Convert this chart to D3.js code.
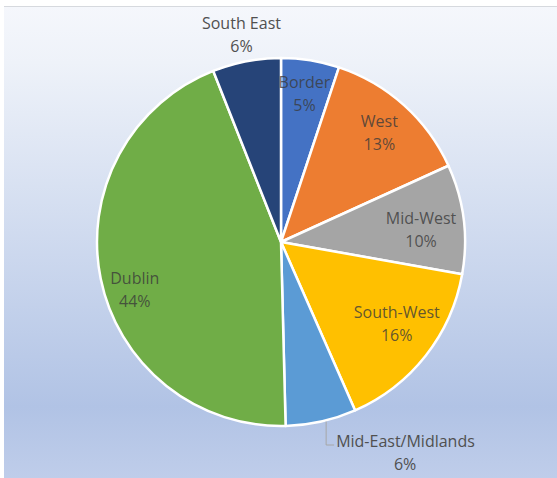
<!DOCTYPE html>
<html>
<head>
<meta charset="utf-8">
<script src="https://cdn.jsdelivr.net/npm/d3@7"></script>
<style>
  html, body { margin: 0; padding: 0; background: #ffffff; }
  svg { display: block; }
  text { font-family: "Open Sans", "Noto Sans", sans-serif; }
</style>
</head>
<body>
<svg id="chart" width="557" height="478"></svg>
<script>
// ---- data ----
const categories = ["Border", "West", "Mid-West", "South-West", "Mid-East/Midlands", "Dublin", "South East"];
const values = [5.1, 13.1, 9.6, 15.6, 6.2, 44.4, 6.0];
const percentLabels = ["5%", "13%", "10%", "16%", "6%", "44%", "6%"];
const sliceColors = ["#4472c4", "#ed7d31", "#a5a5a5", "#ffc000", "#5b9bd5", "#70ad47", "#264478"];

// label placement tweaks (pixels), separate from data
const labelNudge = { "Dublin": [-2, 19], "Mid-West": [-6, 6], "South-West": [0, -9], "Border": [0, -3] };
const outsideLabels = ["South East", "Mid-East/Midlands"];

const W = 557, H = 478;
const svg = d3.select("#chart");

// background gradient
const defs = svg.append("defs");
const grad = defs.append("linearGradient").attr("id", "bg").attr("x1", 0).attr("y1", 0).attr("x2", 0).attr("y2", 1);
[[0, "#f5f7fc"], [0.12, "#eef2f9"], [0.85, "#b1c3e5"], [1, "#bfcdea"]].forEach(s =>
  grad.append("stop").attr("offset", s[0]).attr("stop-color", s[1]));

svg.append("rect").attr("x", 4).attr("y", 6).attr("width", W - 4).attr("height", H - 6).attr("fill", "url(#bg)");
svg.append("line").attr("x1", 4).attr("x2", W).attr("y1", 6.5).attr("y2", 6.5).attr("stroke", "#d6d9de").attr("stroke-width", 1);

const cx = 281, cy = 242, R = 184;
const g = svg.append("g").attr("transform", `translate(${cx},${cy})`);

const data = categories.map((c, i) => ({ name: c, value: values[i], label: percentLabels[i], color: sliceColors[i] }));
const pie = d3.pie().sort(null).value(d => d.value).startAngle(0).endAngle(2 * Math.PI);
const arcs = pie(data);
const arc = d3.arc().innerRadius(0).outerRadius(R);
const labelArc = d3.arc().innerRadius(R * 0.8).outerRadius(R * 0.8);
const outerArc = d3.arc().innerRadius(R + 27).outerRadius(R + 27);
const edgeArc = d3.arc().innerRadius(R).outerRadius(R);

g.selectAll("path.slice").data(arcs).enter().append("path")
  .attr("class", "slice")
  .attr("d", arc)
  .attr("fill", d => d.data.color)
  .attr("stroke", "#ffffff")
  .attr("stroke-width", 2.5)
  .attr("stroke-linejoin", "round");

const fs = 16;
const lineGap = 23;

// inside labels
arcs.filter(d => !outsideLabels.includes(d.data.name)).forEach(d => {
  const [x0, y0] = labelArc.centroid(d);
  const n = labelNudge[d.data.name] || [0, 0];
  const x = x0 + n[0], y = y0 + n[1];
  const t = g.append("text").attr("text-anchor", "middle").attr("font-size", fs)
    .attr("fill", "#3a3a3a").attr("fill-opacity", 0.8);
  t.append("tspan").attr("x", x).attr("y", y - lineGap / 2 + 5.5).text(d.data.name);
  t.append("tspan").attr("x", x).attr("y", y + lineGap / 2 + 5.5).text(d.data.label);
});

// South East (outside, above)
arcs.filter(d => d.data.name === "South East").forEach(d => {
  const [x, y] = outerArc.centroid(d);
  const t = g.append("text").attr("text-anchor", "middle").attr("font-size", fs).attr("fill", "#505050");
  t.append("tspan").attr("x", x).attr("y", y - lineGap / 2 + 5.5).text(d.data.name);
  t.append("tspan").attr("x", x).attr("y", y + lineGap / 2 + 5.5).text(d.data.label);
});

// Mid-East/Midlands (outside with leader line)
arcs.filter(d => d.data.name === "Mid-East/Midlands").forEach(d => {
  const [ex, ey] = edgeArc.centroid(d);
  const lx = ex + 5, ly = R + 19;
  g.append("path")
    .attr("d", `M${lx},${ey} L${lx},${ly} L${lx + 8},${ly}`)
    .attr("fill", "none").attr("stroke", "#a6a6a6").attr("stroke-width", 1);
  const tx = lx + 10;
  const t = g.append("text").attr("font-size", fs).attr("fill", "#505050");
  t.append("tspan").attr("x", tx).attr("y", ly + 2).text(d.data.name);
  t.append("tspan").attr("x", tx + 69).attr("text-anchor", "middle").attr("y", ly + 2 + lineGap).text(d.data.label);
});
</script>
</body>
</html>
